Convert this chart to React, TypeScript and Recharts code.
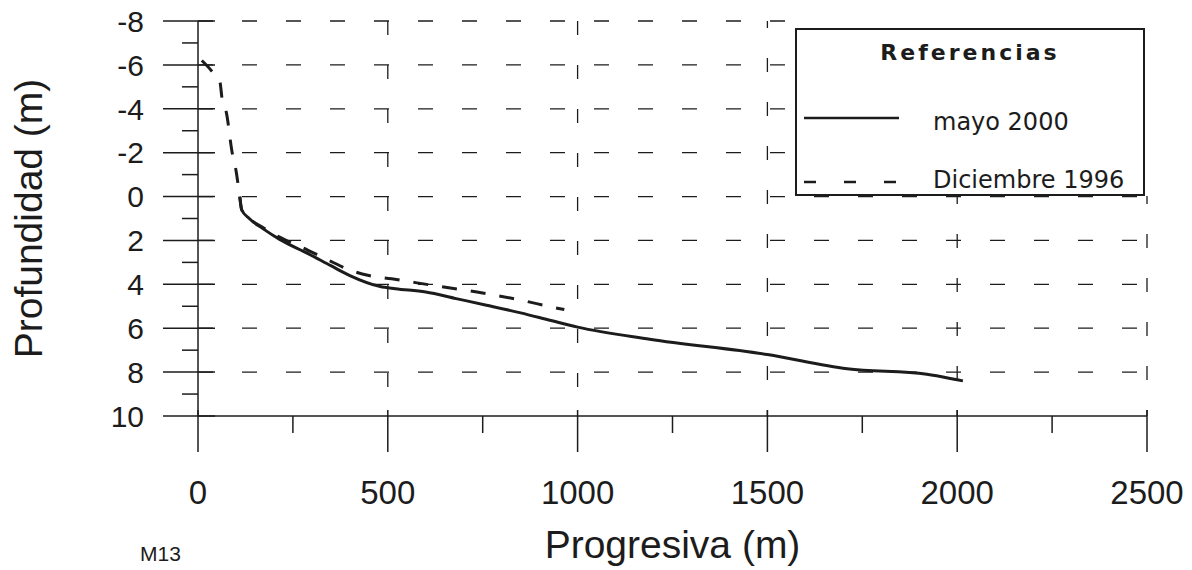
import React from "react";
import { LineChart, Line, XAxis, YAxis, CartesianGrid, Legend } from "recharts";

// mayo 2000 (solid)
const mayoX = [110, 115, 135, 170, 215, 290, 350, 400, 480, 520, 600, 680, 760, 850, 930, 1000, 1190, 1500, 1710, 1920, 2000, 2015];
const mayoDepth = [0, 0.6, 1.0, 1.45, 1.95, 2.6, 3.15, 3.6, 4.1, 4.2, 4.35, 4.65, 4.95, 5.3, 5.65, 5.95, 6.5, 7.2, 7.85, 8.1, 8.35, 8.4];

// Diciembre 1996 (dashed)
const dicX = [10, 37, 58, 63, 75, 90, 100, 110, 115, 135, 170, 215, 290, 350, 400, 450, 510, 620, 735, 845, 950, 965];
const dicDepth = [-6.2, -5.7, -5.2, -4.5, -3.8, -2.0, -1.2, 0, 0.6, 1.0, 1.4, 1.85, 2.45, 2.95, 3.35, 3.6, 3.75, 4.05, 4.35, 4.7, 5.1, 5.15];

const xTicks = [0, 250, 500, 750, 1000, 1250, 1500, 1750, 2000, 2250, 2500];
const yTicks = [-8, -7, -6, -5, -4, -3, -2, -1, 0, 1, 2, 3, 4, 5, 6, 7, 8, 9, 10];
const yGrid = [-8, -6, -4, -2, 0, 2, 4, 6, 8];

const mayo = mayoX.map((x, i) => ({ x, d: mayoDepth[i] }));
const dic = dicX.map((x, i) => ({ x, d: dicDepth[i] }));

const INK = "#1c1c1c";
const FONT = "'Liberation Sans', Arial, sans-serif";

const YTick = (props: any) => {
  const { x, y, payload } = props;
  const v = payload.value;
  const major = v % 2 === 0;
  return (
    <g>
      {major ? (
        <line x1={x - 35} x2={x + 17} y1={y} y2={y} stroke={INK} strokeWidth={1.5} />
      ) : (
        <line x1={x - 16} x2={x} y1={y} y2={y} stroke={INK} strokeWidth={1.5} />
      )}
      {major && (
        <text x={x - 54} y={y} dy="0.36em" textAnchor="end" fontSize={30} fontFamily={FONT} fill={INK}>
          {v}
        </text>
      )}
    </g>
  );
};

const XTick = (props: any) => {
  const { x, y, payload } = props;
  const v = payload.value;
  const major = v % 500 === 0;
  return (
    <g>
      <line x1={x} x2={x} y1={y - (major ? 6 : 0)} y2={y + (major ? 36 : 17)} stroke={INK} strokeWidth={1.5} />
      {major && (
        <text x={x} y={y + 88} textAnchor="middle" fontSize={33} fontFamily={FONT} fill={INK}>
          {v}
        </text>
      )}
    </g>
  );
};

const LegendBox = () => (
  <div style={{ width: 375, height: 186, background: "#fff", position: "relative" }}>
    <div
      style={{
        position: "absolute",
        left: 10,
        top: 18,
        width: 350,
        height: 168,
        border: `2px solid ${INK}`,
        boxSizing: "border-box",
        fontFamily: "'DejaVu Sans', sans-serif",
        color: INK,
      }}
    >
      <div
        style={{
          position: "absolute",
          top: 9,
          left: 0,
          width: "100%",
          textAlign: "center",
          fontWeight: "bold",
          fontSize: 22,
          letterSpacing: 3,
          lineHeight: "28px",
        }}
      >
        Referencias
      </div>
      <svg width={110} height={168} style={{ position: "absolute", left: 0, top: 0 }}>
        <line x1={7} x2={102} y1={88} y2={88} stroke={INK} strokeWidth={2.5} />
        <line x1={7} x2={102} y1={152} y2={152} stroke={INK} strokeWidth={2.5} strokeDasharray="12 28" />
      </svg>
      <div style={{ position: "absolute", left: 136, top: 78, fontSize: 24, lineHeight: "28px" }}>mayo 2000</div>
      <div style={{ position: "absolute", left: 136, top: 136, fontSize: 24, lineHeight: "28px" }}>Diciembre 1996</div>
    </div>
  </div>
);

export default function App() {
  return (
    <div style={{ position: "absolute", left: 0, top: 0, width: 1192, height: 570, background: "#fff" }}>
      <LineChart width={1192} height={570} margin={{ top: 21, right: 45, bottom: 0, left: 0 }}>
        <CartesianGrid
          vertical={false}
          horizontalValues={yGrid}
          stroke={INK}
          strokeWidth={1.3}
          strokeDasharray="15 29"
        />
        <CartesianGrid
          horizontal={false}
          verticalValues={[500, 1000]}
          stroke={INK}
          strokeWidth={1.3}
          strokeDasharray="14 30"
        />
        <CartesianGrid
          horizontal={false}
          verticalValues={[1500, 2000, 2500]}
          stroke={INK}
          strokeWidth={1.3}
          strokeDasharray="14 30"
          strokeDashoffset={7}
        />
        <XAxis
          dataKey="x"
          type="number"
          domain={[0, 2500]}
          ticks={xTicks}
          interval={0}
          height={154}
          tickSize={0}
          tickMargin={0}
          tickLine={false}
          tick={<XTick />}
          axisLine={{ stroke: INK, strokeWidth: 1.5 }}
          allowDataOverflow
          label={{
            value: "Progresiva (m)",
            position: "insideBottom",
            offset: 12,
            style: { fontSize: 39, fontFamily: FONT, fill: INK },
          }}
        />
        <YAxis
          dataKey="d"
          type="number"
          domain={[-8, 10]}
          reversed
          ticks={yTicks}
          interval={0}
          width={198}
          tickSize={0}
          tickMargin={0}
          tickLine={false}
          tick={<YTick />}
          axisLine={{ stroke: INK, strokeWidth: 1.5 }}
          allowDataOverflow
          label={{
            value: "Profundidad (m)",
            angle: -90,
            position: "insideLeft",
            offset: 28,
            style: { fontSize: 39, fontFamily: FONT, fill: INK, textAnchor: "middle" },
          }}
        />
        <Legend
          layout="horizontal"
          verticalAlign="middle"
          align="center"
          content={<LegendBox />}
          wrapperStyle={{ left: 785, top: 10, width: 375, height: 186, bottom: "auto", right: "auto" }}
        />
        <Line
          data={mayo}
          dataKey="d"
          name="mayo 2000"
          type="monotone"
          stroke={INK}
          strokeWidth={3}
          dot={false}
          activeDot={false}
          isAnimationActive={false}
        />
        <Line
          data={dic}
          dataKey="d"
          name="Diciembre 1996"
          type="monotone"
          stroke={INK}
          strokeWidth={3}
          strokeDasharray="15 14"
          dot={false}
          activeDot={false}
          isAnimationActive={false}
        />
      </LineChart>
      <div
        style={{
          position: "absolute",
          left: 140,
          top: 542,
          fontSize: 21,
          lineHeight: "24px",
          fontFamily: FONT,
          color: INK,
        }}
      >
        M13
      </div>
    </div>
  );
}
